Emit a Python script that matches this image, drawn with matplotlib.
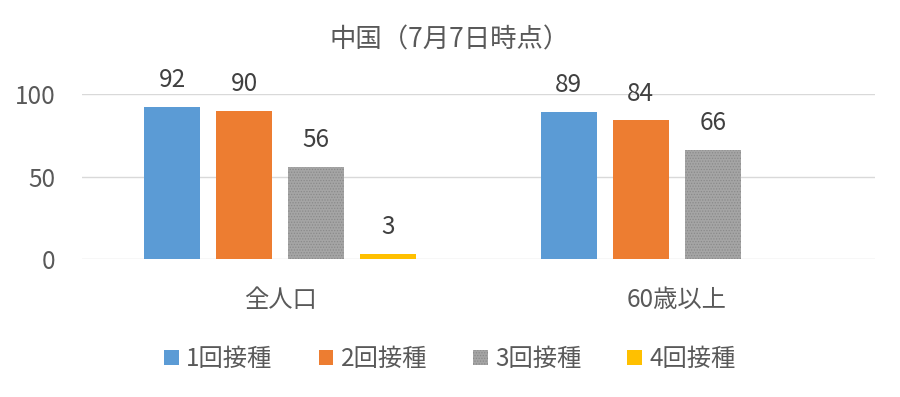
import numpy as np
import matplotlib.pyplot as plt

plt.rcParams['font.family'] = ['Noto Sans CJK JP', 'DejaVu Sans']
plt.rcParams['hatch.linewidth'] = 0.6

categories = ['全人口', '60歳以上']
series_names = ['1回接種', '2回接種', '3回接種', '4回接種']
values = [
    [92, 89],
    [90, 84],
    [56, 66],
    [3, None],
]
colors = ['#5b9bd5', '#ed7d31', '#a5a5a5', '#ffc000']
title = '中国（7月7日時点）'
text_color = '#595959'

fig = plt.figure(figsize=(9, 3.97), dpi=100)
ax = fig.add_axes([0.0911, 0.3476, 0.8811, 0.4156])

x = np.arange(len(categories))
step = 0.1816
width = 0.141

for i, (name, vals) in enumerate(zip(series_names, values)):
    pos = x + (i - 1.5) * step
    hv = [v if v is not None else 0 for v in vals]
    if i == 2:
        kw = dict(hatch='......', edgecolor='#8a8a8a', linewidth=0)
    else:
        kw = dict(linewidth=0)
    ax.bar(pos, hv, width, color=colors[i], label=name, zorder=3, **kw)
    for p, v in zip(pos, vals):
        if v is None:
            continue
        ax.annotate(str(v), (p, v), xytext=(0, 10), textcoords='offset points',
                    ha='center', va='bottom', fontsize=17.5, color='#404040')

ax.set_xlim(-0.5, 1.5)
ax.set_ylim(0, 100)
ax.set_yticks([0, 50, 100])
ax.set_xticks(x)
ax.set_xticklabels(categories)
ax.tick_params(axis='both', length=0, labelsize=17.5, colors=text_color)
ax.tick_params(axis='x', pad=20)
ax.tick_params(axis='y', pad=19)
ax.grid(axis='y', color='#d9d9d9', linewidth=1, zorder=0)
for s in ax.spines.values():
    s.set_visible(False)

fig.text(0.5, 0.9, title, ha='center', va='center', fontsize=19, color=text_color)

fig.legend(loc='center', bbox_to_anchor=(0.5, 0.095), ncol=4, frameon=False,
           fontsize=17.5, handlelength=0.6, handleheight=0.6, handletextpad=0.3,
           columnspacing=1.9, labelcolor=text_color)

fig.savefig('out.png', dpi=100)
